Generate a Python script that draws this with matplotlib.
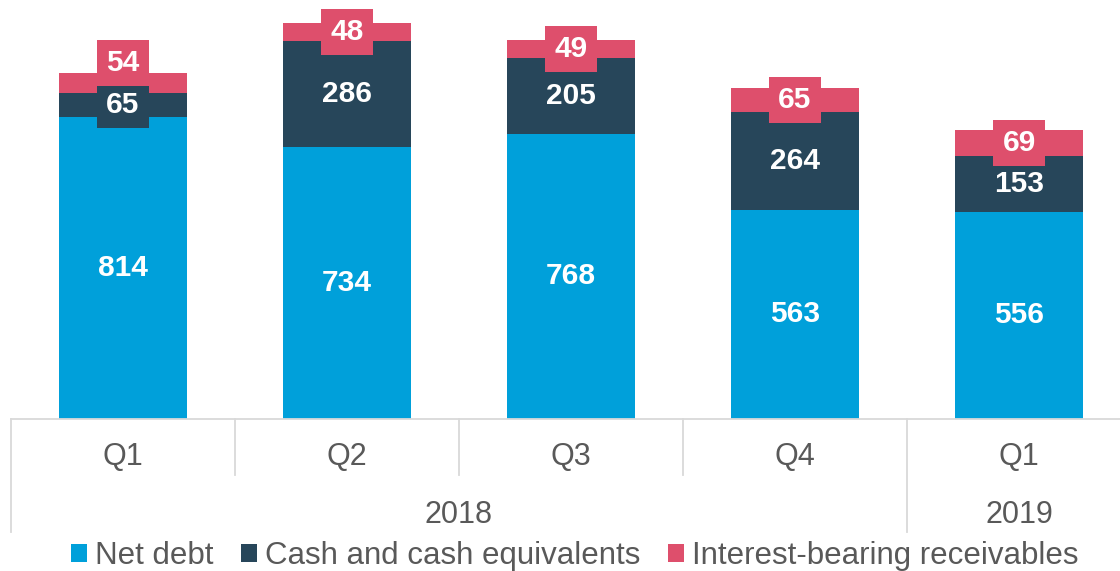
import matplotlib.pyplot as plt
import numpy as np
from matplotlib.patches import Patch

plt.rcParams["font.family"] = ["Liberation Sans", "DejaVu Sans"]

# Data
quarters = ["Q1", "Q2", "Q3", "Q4", "Q1"]
years = ["2018", "2019"]
year_groups = [(0, 3), (4, 4)]
net_debt = [814, 734, 768, 563, 556]
cash = [65, 286, 205, 264, 153]
receivables = [54, 48, 49, 65, 69]

series_names = ["Net debt", "Cash and cash equivalents", "Interest-bearing receivables"]
colors = ["#00A0DA", "#27465A", "#DE4F6C"]
grey = "#595959"
line_grey = "#D9D9D9"

fig = plt.figure(figsize=(11.2, 5.71), dpi=100)
ax = fig.add_axes([11 / 1120, 152.5 / 571, 1.0, 418.5 / 571])

x = np.arange(len(quarters))
bottoms = np.zeros(len(quarters))
# label nudges (points), only the first top label is pushed up in the original
nudge = {(2, 0): 14}

for s, (vals, col) in enumerate(zip([net_debt, cash, receivables], colors)):
    ax.bar(x, vals, 0.567, bottom=bottoms, color=col, linewidth=0, zorder=2)
    for i, v in enumerate(vals):
        ax.annotate(str(v), (x[i], bottoms[i] + v / 2), xytext=(0, nudge.get((s, i), 0)),
                    textcoords="offset points", ha="center", va="center",
                    color="white", fontsize=21.5, fontweight="bold", zorder=3 + s,
                    bbox=dict(boxstyle="square,pad=0.3", fc=col, ec="none"))
    bottoms += np.array(vals)

ax.set_xlim(-0.5, len(quarters) - 0.5)
ax.set_ylim(0, 1129.5)
for sp in ["top", "right", "left"]:
    ax.spines[sp].set_visible(False)
ax.spines["bottom"].set_color(line_grey)
ax.spines["bottom"].set_linewidth(1.3)
ax.set_yticks([])
ax.set_xticks(x, quarters)
ax.tick_params(axis="x", length=0, pad=17, labelsize=22, labelcolor=grey)

# category separators
tr = ax.get_xaxis_transform()
inner = -56.5 / 418.5
outer = -113.5 / 418.5
group_edges = [g[0] - 0.5 for g in year_groups] + [year_groups[-1][1] + 0.5]
for e in np.arange(-0.5, len(quarters), 1.0):
    low = outer if e in group_edges else inner
    ax.plot([e, e], [0, low], transform=tr, color=line_grey, lw=1.3, clip_on=False)

for yr, (a, b) in zip(years, year_groups):
    ax.text((a + b) / 2, -104.5 / 418.5, yr, transform=tr, ha="center", va="baseline",
            fontsize=22, color=grey)

handles = [Patch(facecolor=c, edgecolor="none", label=n) for c, n in zip(colors, series_names)]
fig.legend(handles=handles, loc="lower center", bbox_to_anchor=(0.513, 0.0), ncol=3,
           frameon=False, fontsize=22.5, labelcolor=grey, handlelength=0.52,
           handleheight=0.52, handletextpad=0.23, columnspacing=0.9,
           borderpad=0, borderaxespad=0)

fig.savefig("out.png", dpi=100)
